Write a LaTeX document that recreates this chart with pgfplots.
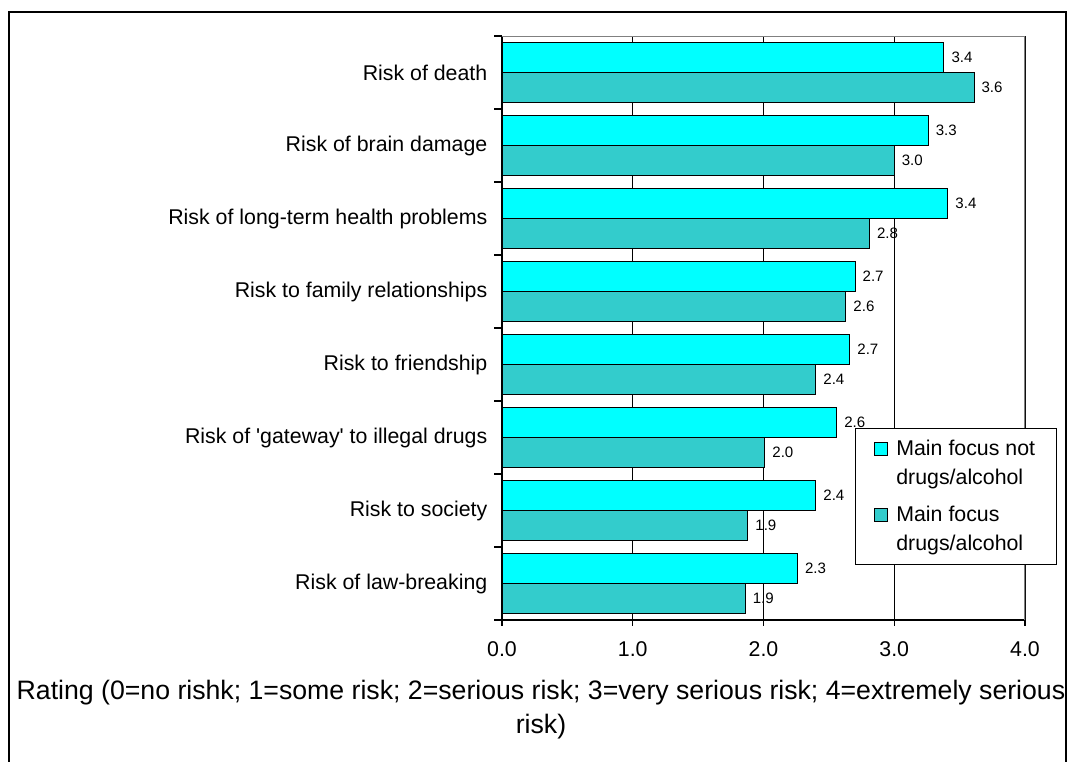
\documentclass[border=0pt]{standalone}
\usepackage{pgfplots}
\pgfplotsset{compat=1.18}
\usepackage{fontspec}
\setmainfont{Liberation Sans}[Ligatures=TeXOff]
\definecolor{cnot}{HTML}{00FFFF}
\definecolor{cfoc}{HTML}{33CCCC}
\definecolor{bordergray}{HTML}{808080}
\begin{document}
\begin{tikzpicture}[x=0.75pt,y=0.75pt]
\path[use as bounding box] (0,0) rectangle (1068,762);
\draw[black, line width=1.5pt] (9,0) -- (9,750) -- (1066,750) -- (1066,0);
\begin{axis}[
  at={(376.5pt,106.5pt)}, anchor=south west,
  scale only axis, width=392.25pt, height=438pt,
  xbar, bar width=22.5pt,
  xmin=0, xmax=4, ymin=-0.5, ymax=7.5,
  enlargelimits=false,
  axis x line*=bottom, axis y line*=left,
  axis line style={black, line width=1pt},
  xtick={0,1,2,3,4}, xticklabels={0.0,1.0,2.0,3.0,4.0},
  ytick={0,1,2,3,4,5,6,7},
  yticklabels={Risk of law-breaking, Risk to society, Risk of 'gateway' to illegal drugs, Risk to friendship, Risk to family relationships, Risk of long-term health problems, Risk of brain damage, Risk of death},
  minor ytick={-0.5,0.5,...,7.5},
  major y tick style={draw=none},
  minor y tick style={black, line width=1pt},
  major x tick style={black, line width=1pt},
  tick align=outside, major tick length=4.5pt, minor tick length=6pt,
  xmajorgrids, major x grid style={black, line width=1pt},
  ticklabel style={font=\fontsize{16}{19}\selectfont},
  xticklabel style={yshift=-8pt},
  yticklabel style={xshift=-3pt},
  point meta=x,
  nodes near coords={\pgfmathprintnumber[fixed,zerofill,precision=1,assume math mode=true]{\pgfplotspointmeta}},
  every node near coord/.append style={font=\fontsize{11.3}{13}\selectfont, xshift=2pt, black},
  legend style={at={(0.675,0.329)}, anchor=north west, draw=black, line width=1pt,
    font=\fontsize{16}{21.75}\selectfont, cells={anchor=west, align=left},
    row sep=10.5pt, column sep=4pt, inner xsep=14pt, inner ysep=7pt},
  legend image code/.code={\draw[#1, draw=black, line width=0.75pt] (0pt,6pt) rectangle (9.75pt,15.75pt);},
]
\addplot[fill=cnot, draw=black, line width=0.75pt, bar shift=11.25pt]
  coordinates {(3.38,7) (3.26,6) (3.41,5) (2.70,4) (2.66,3) (2.56,2) (2.40,1) (2.26,0)};
\addlegendentry{Main focus not\\drugs/alcohol}
\addplot[fill=cfoc, draw=black, line width=0.75pt, bar shift=-11.25pt]
  coordinates {(3.61,7) (3.00,6) (2.81,5) (2.63,4) (2.40,3) (2.01,2) (1.88,1) (1.86,0)};
\addlegendentry{Main focus\\drugs/alcohol}
\draw[bordergray, line width=1.5pt] (axis cs:0,7.5) -- (axis cs:4,7.5) -- (axis cs:4,-0.5);
\end{axis}
\node[align=center, font=\fontsize{20}{25.5}\selectfont] at (541,52) {Rating (0=no rishk; 1=some risk; 2=serious risk; 3=very serious risk; 4=extremely serious\\risk)};
\end{tikzpicture}
\end{document}
